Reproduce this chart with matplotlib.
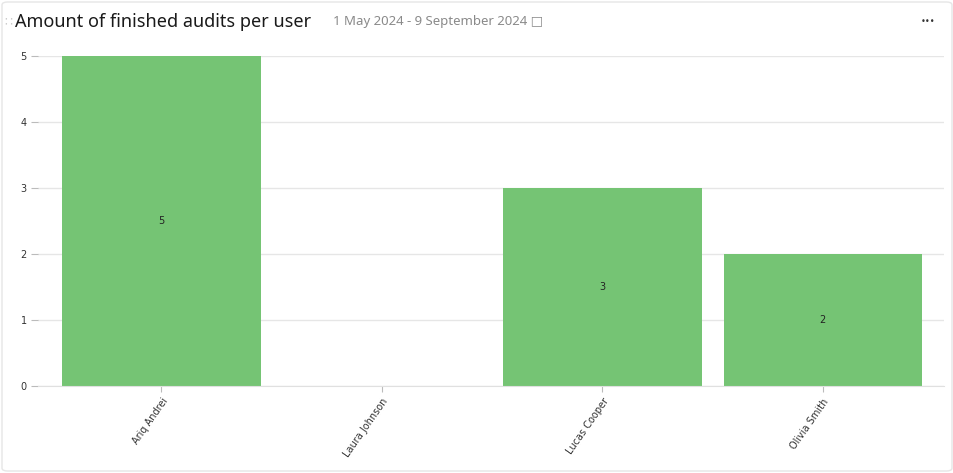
import matplotlib
matplotlib.use("Agg")
import matplotlib.pyplot as plt
from matplotlib.patches import FancyBboxPatch

users = ["Ariq Andrei", "Laura Johnson", "Lucas Cooper", "Olivia Smith"]
audits = [5, 0, 3, 2]
yticks = [0, 1, 2, 3, 4, 5]

W, H = 954, 473
fig = plt.figure(figsize=(W/100, H/100), dpi=100)
fig.patch.set_facecolor("white")
border = FancyBboxPatch((2/W, 2/H), 1-4/W, 1-4/H, boxstyle="round,pad=0,rounding_size=0.006",
                        transform=fig.transFigure, fc="none", ec="#e6e6e6", lw=1, zorder=-10)
fig.patches.append(border)
ax = fig.add_axes([38/W, 1-386/H, (944-38)/W, (386-56)/H])
ax.set_zorder(5)
ax.patch.set_alpha(0)
x = list(range(len(users)))
ax.bar(x, audits, width=0.9, color="#75c474", zorder=2)
for xi, v in zip(x, audits):
    if v > 0:
        ax.text(xi, v/2, str(v), ha="center", va="center", fontsize=7, color="#222222", zorder=3)
ax.set_xlim(-0.56, 3.55)
ax.set_ylim(0, 5)
ax.set_yticks(yticks)
ax.set_yticklabels([str(t) for t in yticks], fontsize=7, color="#333333")
ax.set_xticks(x)
ax.set_xticklabels(users, rotation=55, ha="right", rotation_mode="anchor", fontsize=7, color="#333333")
ax.grid(axis="y", color="#e6e6e6", lw=1, zorder=0)
for s in ["top", "right", "left"]:
    ax.spines[s].set_visible(False)
ax.spines["bottom"].set_color("#e0e0e0")
ax.tick_params(axis="both", colors="#bbbbbb", length=4, labelcolor="#333333")
ax.tick_params(axis="y", length=5, pad=3)

fig.text(15/W, 1-22/H, "Amount of finished audits per user", fontsize=13, fontweight="bold",
         family="Noto Sans", color="#1a1a1a", va="center")
fig.text(333/W, 1-22/H, "1 May 2024 - 9 September 2024 \u25a1", fontsize=9.5,
         family=["Noto Sans", "DejaVu Sans"], color="#8a8a8a", va="center")
fig.text(4/W, 1-22/H, "\u2237", fontsize=9, color="#cccccc", va="center", family="DejaVu Sans")
fig.text(928/W, 1-22/H, "\u2022\u2022\u2022", fontsize=6, color="#333333", va="center", ha="center",
         family="DejaVu Sans")
fig.savefig("out.png", dpi=100)
